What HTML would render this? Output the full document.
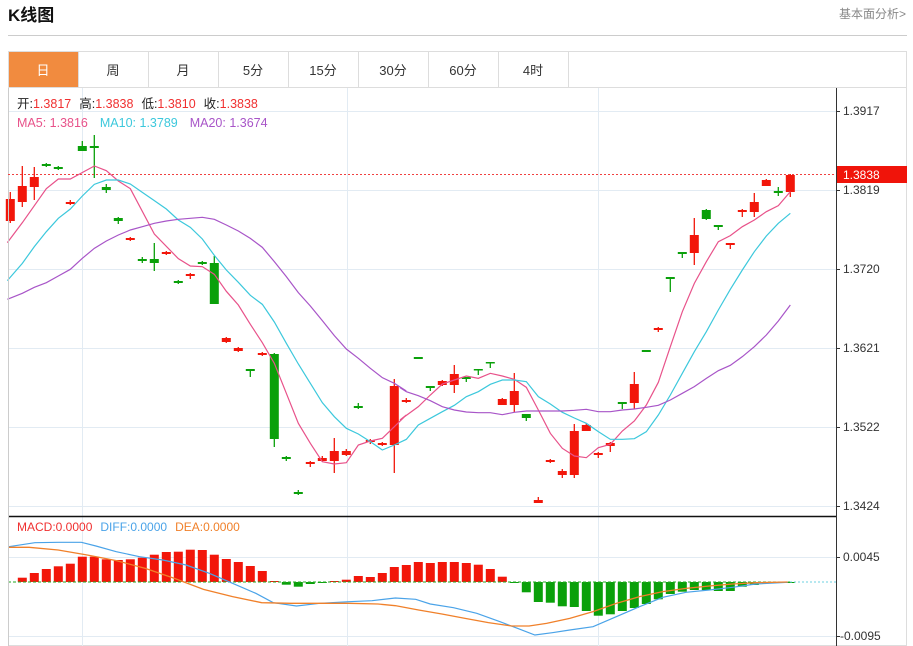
<!DOCTYPE html>
<html><head><meta charset="utf-8">
<style>
body{margin:0;width:913px;height:646px;overflow:hidden;background:#fff;font-family:"Liberation Sans","Noto Sans CJK SC",sans-serif;}
svg{position:absolute;left:0;top:0}
</style></head><body>
<svg id="s" width="913" height="646" xmlns="http://www.w3.org/2000/svg" font-family="Liberation Sans, Noto Sans CJK SC, sans-serif">
<text x="8" y="21" font-size="17" font-weight="bold" fill="#111">K线图</text>
<text x="906" y="18" font-size="12" fill="#888" text-anchor="end">基本面分析&gt;</text>
<line x1="8" y1="35.5" x2="907" y2="35.5" stroke="#ccc"/>
<rect x="8.5" y="51.5" width="898" height="594" fill="none" stroke="#ddd"/>
<line x1="8" y1="87.5" x2="907" y2="87.5" stroke="#ddd"/>
<rect x="9" y="52" width="69" height="35" fill="#f18b3f"/>
<g font-size="13" fill="#333" text-anchor="middle">
<text x="43" y="75" fill="#fff">日</text>
<text x="113" y="75">周</text><text x="183" y="75">月</text><text x="253" y="75">5分</text>
<text x="323" y="75">15分</text><text x="393" y="75">30分</text><text x="463" y="75">60分</text><text x="533" y="75">4时</text>
</g>
<g stroke="#ddd"><line x1="78.5" y1="52" x2="78.5" y2="87"/><line x1="148.5" y1="52" x2="148.5" y2="87"/><line x1="218.5" y1="52" x2="218.5" y2="87"/><line x1="288.5" y1="52" x2="288.5" y2="87"/><line x1="358.5" y1="52" x2="358.5" y2="87"/><line x1="428.5" y1="52" x2="428.5" y2="87"/><line x1="498.5" y1="52" x2="498.5" y2="87"/><line x1="568.5" y1="52" x2="568.5" y2="87"/></g>
<g id="grid" stroke="#e2ebf3"></g>
<g id="main"></g>
<line x1="8" y1="516.5" x2="836" y2="516.5" stroke="#111" stroke-width="1.5"/>
<line x1="836.5" y1="88" x2="836.5" y2="646" stroke="#333"/>
<line x1="8.5" y1="88" x2="8.5" y2="646" stroke="#ccc"/>
<line x1="8" y1="174.5" x2="836" y2="174.5" stroke="#f04040" stroke-dasharray="2,2"/>
<rect x="837" y="166" width="70" height="17" fill="#f0140a"/>
<text x="843" y="179" font-size="12" fill="#fff">1.3838</text>
<g font-size="12" fill="#333" id="ax"></g>
<g font-size="12.5">
<text x="17" y="108"><tspan fill="#222">开:</tspan><tspan fill="#f03030">1.3817</tspan><tspan fill="#222" dx="8">高:</tspan><tspan fill="#f03030">1.3838</tspan><tspan fill="#222" dx="8">低:</tspan><tspan fill="#f03030">1.3810</tspan><tspan fill="#222" dx="8">收:</tspan><tspan fill="#f03030">1.3838</tspan></text>
<text x="17" y="127"><tspan fill="#e8528a">MA5: 1.3816</tspan><tspan fill="#3cc8dc" dx="12">MA10: 1.3789</tspan><tspan fill="#a855c8" dx="12">MA20: 1.3674</tspan></text>
</g>
<text x="17" y="531" font-size="12"><tspan fill="#f03030">MACD:0.0000</tspan><tspan fill="#4aa3e8" dx="8">DIFF:0.0000</tspan><tspan fill="#f0802a" dx="8">DEA:0.0000</tspan></text>
</svg>
<script>
var NS="http://www.w3.org/2000/svg",s=document.getElementById('s');
function el(p,t,a){var e=document.createElementNS(NS,t);for(var k in a)e.setAttribute(k,a[k]);p.appendChild(e);return e;}
var g=document.getElementById('grid');
[111,190,269,348,427,506,557,636].forEach(function(y){el(g,'line',{x1:8,x2:836,y1:y+.5,y2:y+.5});});
[82,347,598].forEach(function(x){el(g,'line',{x1:x+.5,x2:x+.5,y1:88,y2:646});});
var ax=document.getElementById('ax');
[[111,'1.3917'],[190,'1.3819'],[269,'1.3720'],[348,'1.3621'],[427,'1.3522'],[506,'1.3424'],[557,'0.0045'],[636,'-0.0095']].forEach(function(a){
 el(ax,'line',{x1:836,x2:840,y1:a[0]+.5,y2:a[0]+.5,stroke:'#333'});
 var t=el(ax,'text',{x:a[1][0]=='-'?840:843,y:a[0]+4});t.textContent=a[1];});
var m=document.getElementById('main');
function X(i){return 10.3+12*i;}
var R='#f2160a',G='#0aa00a';
var C=[
['r',199,221,192,223],['r',186,202,166,207],['r',177,187,167,200],['g',164,166,163,167],['g',167,169,166,170],
['r',202,204,200,205],['g',146,151,141,151],['g',146,148,135,178],['g',187,190,184,193],['g',218,221,217,224],
['r',238,240,237,241],['g',259,261,257,263],['g',259,263,243,271],['r',252,254,251,255],['g',281,283,280,284],
['r',274,276,273,279],['g',262,264,261,265],['g',263,304,256,304],['r',338,342,337,343],['r',348,351,347,352],
['g',369,371,369,377],['r',353,355,352,356],['g',354,439,353,447],['g',457,459,456,461],['g',492,494,490,495],
['r',462,464,461,467],['r',458,461,456,462],['r',451,461,438,473],['r',451,455,449,456],['g',406,408,403,409],
['r',440,442,439,444],['r',443,445,442,446],['r',386,445,379,473],['r',400,402,398,403],['g',357,359,357,359],
['g',386,388,386,391],['r',381,385,380,386],['r',374,385,365,393],['g',377,379,377,382],['g',369,370,369,375],
['g',362,363,362,368],['r',399,405,398,405],['r',391,405,373,412],['g',414,418,414,421],['r',500,503,497,503],
['r',460,462,459,463],['r',471,475,469,478],['r',431,475,424,478],['r',425,431,423,431],['r',453,455,452,458],
['r',443,446,442,452],['g',402,404,402,409],['r',384,403,372,409],['g',350,352,350,352],['r',328,330,327,332],
['g',277,279,277,292],['g',252,254,252,258],['r',235,253,218,265],['g',210,219,209,220],['g',225,227,225,230],
['r',243,245,243,249],['r',210,212,209,217],['r',202,212,193,217],['r',180,186,179,186],['g',191,193,187,196],
['r',175,192,174,197]];
C.forEach(function(c,i){var x=X(i),col=c[0]=='r'?R:G;
 el(m,'line',{x1:x,x2:x,y1:c[3],y2:c[4],stroke:col,'stroke-width':1.3});
 el(m,'rect',{x:x-4.5,y:c[1],width:9,height:Math.max(1.5,c[2]-c[1]),fill:col});});
function z2(p){return (p[0]/3)+','+(130+p[1]/3);}
function z3(p){return (400+p[0]/3)+','+(130+p[1]/3);}
function ma(a,b,col){var pts=a.map(z2).concat(b.map(z3));el(m,'polyline',{points:pts.join(' '),fill:'none',stroke:col,'stroke-width':1.2});}
ma([[22,338],[67,278],[139,176],[175,147],[211,147],[283,108],[319,122],[355,153],[391,176],[463,312],[535,386],[571,408],[607,410],[643,433],[679,484],[715,525],[751,583],[787,638],[823,700],[859,790],[895,880],[931,940],[967,995],[1003,1002],[1039,998],[1075,945],[1111,933],[1147,925],[1183,890],[1219,855]],
[[0,870],[55,830],[91,795],[127,762],[163,750],[199,738],[235,745],[271,730],[307,738],[343,748],[379,772],[415,840],[451,910],[487,955],[523,978],[559,983],[595,953],[631,943],[667,903],[703,873],[739,825],[775,757],[811,650],[847,545],[883,460],[919,395],[955,335],[991,317],[1027,290],[1063,270],[1099,245],[1135,227],[1171,185]],'#e8528a');
ma([[22,452],[67,400],[103,350],[139,305],[175,265],[211,237],[247,198],[283,163],[319,150],[355,150],[391,162],[427,187],[463,212],[499,237],[535,270],[571,292],[607,327],[643,376],[679,420],[715,457],[751,496],[787,523],[823,576],[859,640],[895,702],[931,760],[967,818],[1003,860],[1039,895],[1075,912],[1111,935],[1147,960],[1183,945]],
[[19,928],[55,885],[91,865],[127,845],[163,826],[199,800],[235,785],[271,763],[307,750],[343,750],[379,755],[415,800],[451,822],[487,847],[523,864],[559,880],[595,905],[631,928],[667,928],[703,926],[739,905],[775,855],[811,795],[847,730],[883,665],[919,605],[955,540],[991,478],[1027,420],[1063,365],[1099,318],[1135,280],[1171,250]],'#3cc8dc');
ma([[22,508],[67,490],[103,472],[139,458],[175,438],[211,418],[247,385],[283,355],[319,333],[355,315],[391,300],[427,290],[463,280],[499,273],[535,268],[571,265],[607,262],[643,268],[679,285],[715,303],[751,325],[787,352],[823,395],[859,440],[895,488],[931,528],[967,572],[1003,617],[1039,657],[1075,685],[1111,715],[1147,743],[1183,760],[1219,783]],
[[0,773],[19,785],[55,797],[91,812],[127,830],[163,840],[199,846],[235,848],[271,848],[307,854],[343,847],[379,843],[415,843],[451,843],[487,843],[523,841],[559,838],[595,845],[631,845],[667,840],[703,837],[739,832],[775,826],[811,810],[847,790],[883,770],[919,745],[955,722],[991,706],[1027,680],[1063,650],[1099,615],[1135,573],[1171,525]],'#a855c8');
// MACD histogram: values are bar end y (index 1..65)
var Z=582;
var H=[null,577.7,573,569,566.3,563.7,556.7,556.7,559.3,560,559.3,557.7,554.7,552,551.7,549.7,550,554.7,559,562,566,571,581,584.7,586.7,584,583,581,579.7,576,577,573,567,
565,562,563,562,562,563,564.7,569,576.7,583,592.3,602,602.7,606.3,607,611,615.7,614.3,611,608,604,599.3,594,591.7,590,590,591,591,586.7,585,583.3,583,582.5];
for(var i=1;i<H.length;i++){var v=H[i];
 if(v<Z){el(m,'rect',{x:X(i)-4.5,y:v,width:9,height:Math.max(1,Z-v),fill:R});}
 else{el(m,'rect',{x:X(i)-4.5,y:Z,width:9,height:Math.max(1,v-Z),fill:G});}}
el(m,'line',{x1:8,x2:790,y1:Z,y2:Z,stroke:'#2a2',"stroke-width":1,"stroke-dasharray":"3,2"});
el(m,'line',{x1:790,x2:836,y1:Z,y2:Z,stroke:'#6cd0e0',"stroke-dasharray":"2,2"});
function zm(p){return (p[0]/1.72)+','+(510+p[1]/3);}
el(m,'polyline',{points:[[15,110],[60,98],[100,97],[140,97],[165,108],[200,125],[240,140],[280,150],[320,165],[360,190],[400,220],[440,250],[470,278],[510,288],[550,280],[600,275],[640,272],[680,264],[715,268],[740,282],[780,293],[820,310],[860,335],[890,355],[920,375],[950,368],[980,360],[1020,350],[1060,320],[1100,290],[1140,262],[1180,247],[1220,240],[1260,232],[1300,222],[1355,217]].map(zm).join(' '),fill:'none',stroke:'#4aa3e8','stroke-width':1.2});
el(m,'polyline',{points:[[15,112],[50,112],[100,120],[150,135],[200,152],[250,175],[300,205],[350,238],[400,260],[450,278],[500,280],[550,280],[600,280],[650,282],[680,287],[720,300],[760,312],[800,325],[840,338],[880,348],[910,348],[940,340],[980,325],[1020,305],[1060,280],[1100,260],[1140,245],[1180,235],[1220,228],[1260,222],[1300,218],[1355,216]].map(zm).join(' '),fill:'none',stroke:'#f0802a','stroke-width':1.3});
</script>
</body></html>
